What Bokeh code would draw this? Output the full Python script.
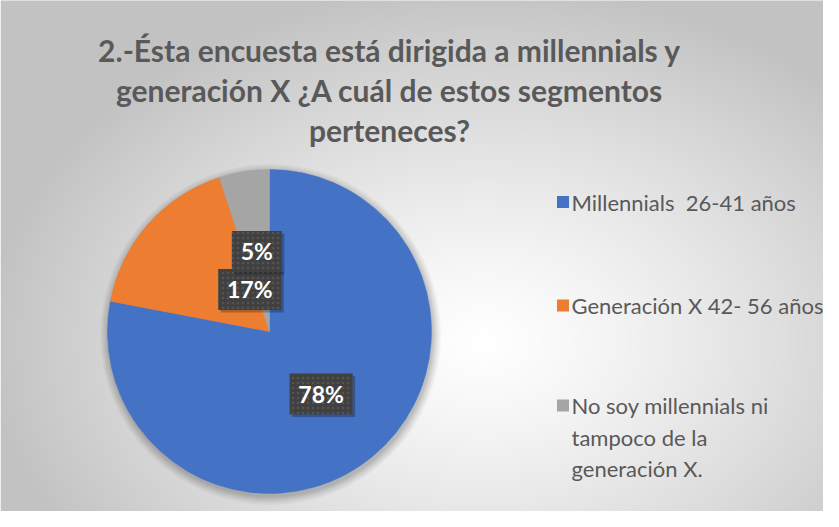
import math
import numpy as np
from bokeh.plotting import figure
from bokeh.models import Range1d
from bokeh.core.properties import value
from bokeh.embed import file_html
from bokeh.resources import INLINE

# ---------------- data ----------------
categories = ["Millennials  26-41 años",
              "Generación X 42- 56 años",
              "No soy millennials ni tampoco de la generación X."]
values = [78, 17, 5]
colors = ["#4472C4", "#ED7D31", "#A5A5A5"]
legend_lines = [["Millennials\u00a0 26-41 años"],
                ["Generación X 42- 56 años"],
                ["No soy millennials ni", "tampoco de la", "generación X."]]
title_lines = ["2.-Ésta encuesta está dirigida a millennials y",
               "generación X ¿A cuál de estos segmentos",
               "perteneces?"]

# ---------------- layout (pixels) ----------------
W, H = 823, 511
OX, OY = 8, 8


def X(xr):
    return xr - OX


def Y(yr):
    return H + OY - yr


FONT = value("Lato")
TXT = "#595959"

p = figure(width=W, height=H, x_range=Range1d(0, W), y_range=Range1d(0, H),
           output_backend="svg", toolbar_location=None, min_border=0,
           x_axis_type=None, y_axis_type=None)
p.grid.visible = False
p.outline_line_color = None
p.background_fill_color = "#ffffff"
p.border_fill_color = "#ffffff"

# background radial gradient
s = 2
gh, gw = H // s + 1, W // s + 1
yy, xx = np.mgrid[0:gh, 0:gw]
px = xx * s
py = yy * s
cx, cy = X(490), Y(350)
d = np.sqrt(((px - cx) / 500.0) ** 2 + ((py - cy) / 360.0) ** 2)
t = np.clip(d, 0, 1) ** 1.25
c0, c1 = 255.0, 194.0
g = (c0 + (c1 - c0) * t).astype(np.uint32)
img = (255 << 24) | (g << 16) | (g << 8) | g
p.image_rgba(image=[img.astype(np.uint32)], x=0, y=0, dw=gw * s, dh=gh * s)

# pie
pcx, pcy, R = X(277), Y(339), 162
# soft shadow
for i, a in enumerate([0.05, 0.05, 0.04, 0.04, 0.03, 0.03]):
    p.circle(x=[pcx + 1], y=[pcy - 3], radius=R + 1 + i * 1.5,
             fill_color="black", fill_alpha=a, line_color=None)

total = float(sum(values))
cum = 0.0
mids = []
for v, col in zip(values, colors):
    a0 = math.pi / 2 - 2 * math.pi * cum / total
    cum += v
    a1 = math.pi / 2 - 2 * math.pi * cum / total
    mids.append((a0 + a1) / 2)
    p.wedge(x=[pcx], y=[pcy], radius=R, start_angle=a0, end_angle=a1,
            direction="clock", fill_color=col, line_color=col, line_width=0.5)

# data labels
label_nudge = [(0, 0), (41, -11.5), (0, 0)]
for v, m, (dx, dy) in zip(values, mids, label_nudge):
    txt = f"{round(v / total * 100)}%"
    lx = pcx + 0.5 * R * math.cos(m) + dx
    ly = pcy + 0.5 * R * math.sin(m) + dy
    bw = 13 * len(txt) + 24
    bh = 41
    p.rect(x=[lx + 2.5], y=[ly - 2.5], width=bw, height=bh,
           fill_color="black", fill_alpha=0.25, line_color=None)
    p.rect(x=[lx], y=[ly], width=bw, height=bh, fill_color="#404040",
           line_color=None, hatch_pattern="dot", hatch_color="#545454",
           hatch_scale=5, hatch_weight=1.0)
    p.text(x=[lx], y=[ly], text=[txt], text_font=FONT, text_font_style="bold",
           text_font_size="23px", text_color="white", text_align="center",
           text_baseline="middle")

# title
for i, line in enumerate(title_lines):
    p.text(x=[X(397)], y=[Y(57 + 40 * i)], text=[line], text_font=FONT,
           text_font_style="bold", text_font_size="30px", text_color=TXT,
           text_align="center", text_baseline="middle")

# legend
entry_y = [209.5, 313, 413]
for lines, col, ey in zip(legend_lines, colors, entry_y):
    p.rect(x=[X(570.5)], y=[Y(ey)], width=12, height=12, fill_color=col,
           line_color=None)
    for j, ln in enumerate(lines):
        p.text(x=[X(579)], y=[Y(ey + 31.5 * j)], text=[ln], text_font=FONT,
               text_font_size="22px", text_color=TXT, text_align="left",
               text_baseline="middle")

open("out.html", "w").write(file_html(p, INLINE))
